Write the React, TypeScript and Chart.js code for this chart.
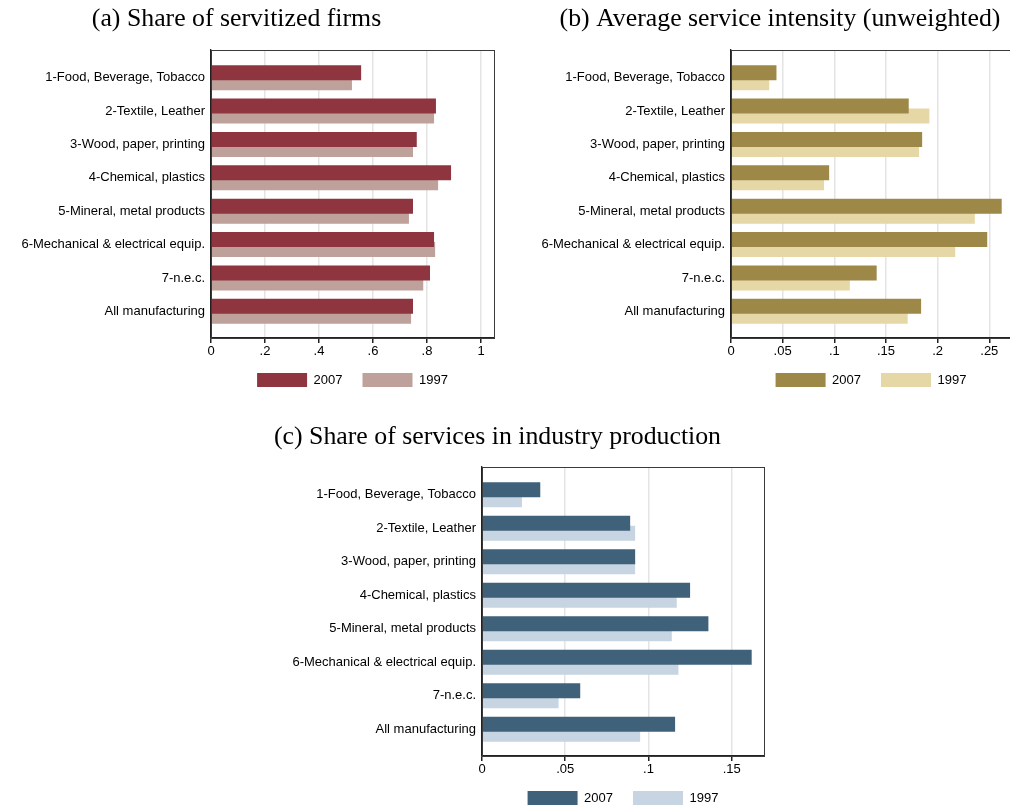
import React, { useEffect, useRef } from "react";
import { Chart, registerables } from "chart.js";

Chart.register(...registerables);

// Industry categories shown on every panel
const categories = [
  "1-Food, Beverage, Tobacco",
  "2-Textile, Leather",
  "3-Wood, paper, printing",
  "4-Chemical, plastics",
  "5-Mineral, metal products",
  "6-Mechanical & electrical equip.",
  "7-n.e.c.",
  "All manufacturing",
];

const years = ["2007", "1997"];

// (a) Share of servitized firms
const servitized2007 = [0.556, 0.833, 0.762, 0.889, 0.748, 0.826, 0.811, 0.748];
const servitized1997 = [0.522, 0.826, 0.748, 0.841, 0.733, 0.83, 0.786, 0.741];

// (b) Average service intensity (unweighted)
const intensity2007 = [0.044, 0.172, 0.185, 0.095, 0.262, 0.248, 0.141, 0.184];
const intensity1997 = [0.037, 0.192, 0.182, 0.09, 0.236, 0.217, 0.115, 0.171];

// (c) Share of services in industry production
const serviceShare2007 = [0.035, 0.089, 0.092, 0.125, 0.136, 0.162, 0.059, 0.116];
const serviceShare1997 = [0.024, 0.092, 0.092, 0.117, 0.114, 0.118, 0.046, 0.095];

// x-axis ranges and tick steps
const xMaxA = 1.048;
const xMaxB = 0.271;
const xMaxC = 0.1694;
const xStepA = 0.2;
const xStepB = 0.05;
const xStepC = 0.05;

const SANS = "'Liberation Sans', Arial, Helvetica, sans-serif";
const SERIF = "'Liberation Serif', 'Times New Roman', serif";
const LABEL_SIZE = 13;

Chart.defaults.font.family = SANS;
Chart.defaults.font.size = LABEL_SIZE;
Chart.defaults.color = "#000";

const fmtTick = (v: number) =>
  String(+Number(v).toFixed(4)).replace(/^0(?=\.)/, "").replace(/^-0(?=\.)/, "-");

// outlines the full plot region (top and right edges included)
const framePlugin = {
  id: "plotFrame",
  afterDatasetsDraw(chart: any) {
    const { ctx, chartArea } = chart;
    ctx.save();
    ctx.strokeStyle = "#3a3a3a";
    ctx.lineWidth = 1;
    ctx.strokeRect(
      Math.round(chartArea.left) + 0.5,
      Math.round(chartArea.top) + 0.5,
      Math.round(chartArea.right - chartArea.left),
      Math.round(chartArea.bottom - chartArea.top)
    );
    ctx.restore();
  },
};

type PanelProps = {
  title: string;
  v2007: number[];
  v1997: number[];
  colors: [string, string];
  xMax: number;
  xStep: number;
  left: number;
  top: number;
  width: number;
  height: number;
  yAxisWidth: number;
  padLeft: number;
  padRight: number;
  titleTop: number;
  titleBottom: number;
};

function Panel(p: PanelProps) {
  const ref = useRef<HTMLCanvasElement | null>(null);

  useEffect(() => {
    if (!ref.current) return;
    const toPoints = (vals: number[]) => vals.map((v, i) => ({ x: v, y: i }));
    const chart = new Chart(ref.current, {
      type: "bar",
      data: {
        datasets: [
          {
            label: years[0],
            data: toPoints(p.v2007),
            backgroundColor: p.colors[0],
            borderWidth: 0,
          },
          {
            label: years[1],
            data: toPoints(p.v1997),
            backgroundColor: p.colors[1],
            borderWidth: 0,
          },
        ],
      } as any,
      options: {
        indexAxis: "y",
        responsive: false,
        animation: false,
        events: [],
        categoryPercentage: 0.598,
        barPercentage: 1.5,
        layout: { padding: { left: p.padLeft, right: p.padRight, top: 0, bottom: 0 } },
        scales: {
          x: {
            type: "linear",
            min: 0,
            max: p.xMax,
            afterFit: (s: any) => {
              s.height = 15;
              // tick labels may extend below the reserved band
              s._computeLabelArea = () => undefined;
            },
            ticks: {
              stepSize: p.xStep,
              includeBounds: false,
              callback: (v: any) => fmtTick(v),
              color: "#000",
              padding: 1,
              maxRotation: 0,
              autoSkip: false,
              font: { size: LABEL_SIZE, family: SANS },
            },
            grid: {
              color: "#e4e4e4",
              lineWidth: 1.5,
              tickColor: "#222",
              tickLength: 5,
            },
            border: { color: "#222", width: 1.3 },
          },
          y: {
            type: "linear",
            reverse: true,
            offset: false,
            min: -0.83,
            max: 7.8,
            afterBuildTicks: (s: any) => {
              s.ticks = categories.map((_, i) => ({ value: i }));
            },
            afterFit: (s: any) => {
              s.width = p.yAxisWidth;
              // long category names may run into the left padding
              s._computeLabelArea = () => undefined;
            },
            ticks: {
              callback: (v: any) => categories[v as number] ?? "",
              color: "#000",
              padding: 6,
              autoSkip: false,
              font: { size: LABEL_SIZE, family: SANS },
            },
            grid: { display: false, drawTicks: false, offset: false },
            border: { display: true, color: "#222", width: 1.3 },
          },
        } as any,
        plugins: {
          title: {
            display: true,
            text: p.title,
            color: "#000",
            font: { family: SERIF, size: 25.8, weight: "normal" },
            padding: { top: p.titleTop, bottom: p.titleBottom },
          },
          legend: {
            position: "bottom",
            fullSize: false,
            labels: {
              boxWidth: 50,
              boxHeight: 14,
              padding: 20,
              color: "#000",
              font: { size: LABEL_SIZE, family: SANS },
            },
          },
          tooltip: { enabled: false },
        },
      },
      plugins: [framePlugin],
    });
    return () => chart.destroy();
  }, []);

  return (
    <canvas
      ref={ref}
      width={p.width}
      height={p.height}
      style={{ position: "absolute", left: p.left, top: p.top, width: p.width, height: p.height }}
    />
  );
}

export default function App() {
  return (
    <div
      style={{
        position: "absolute",
        left: 0,
        top: 0,
        width: 1010,
        height: 808,
        overflow: "hidden",
        background: "#fff",
      }}
    >
      <Panel
        title="(a) Share of servitized firms"
        v2007={servitized2007}
        v1997={servitized1997}
        colors={["#8E353F", "#BFA19B"]}
        xMax={xMaxA}
        xStep={xStepA}
        left={-21}
        top={0}
        width={521}
        height={397}
        yAxisWidth={232}
        padLeft={0}
        padRight={6}
        titleTop={3.5}
        titleBottom={15.5}
      />
      <Panel
        title="(b) Average service intensity (unweighted)"
        v2007={intensity2007}
        v1997={intensity1997}
        colors={["#9D8848", "#E5D8A6"]}
        xMax={xMaxB}
        xStep={xStepB}
        left={510}
        top={0}
        width={510}
        height={397}
        yAxisWidth={182}
        padLeft={39}
        padRight={9}
        titleTop={3.5}
        titleBottom={15.5}
      />
      <Panel
        title="(c) Share of services in industry production"
        v2007={serviceShare2007}
        v1997={serviceShare1997}
        colors={["#40617A", "#C7D4E1"]}
        xMax={xMaxC}
        xStep={xStepC}
        left={231}
        top={419}
        width={539}
        height={396}
        yAxisWidth={251}
        padLeft={0}
        padRight={6}
        titleTop={2.5}
        titleBottom={14.5}
      />
    </div>
  );
}
